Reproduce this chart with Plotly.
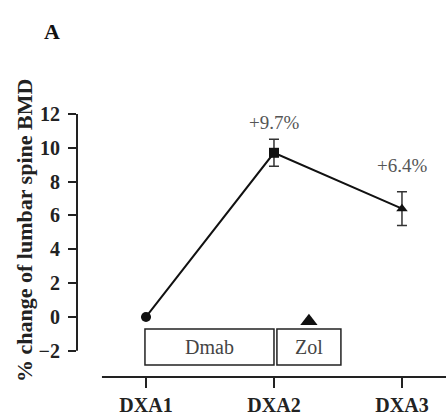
import plotly.graph_objects as go

# ---- data ----
visits = ["DXA1", "DXA2", "DXA3"]
bmd_change = [0.0, 9.7, 6.4]
bmd_err = [0.0, 0.8, 1.0]
change_labels = ["", "+9.7%", "+6.4%"]
marker_symbols = ["circle", "square", "triangle-up"]
y_ticks = [-2, 0, 2, 4, 6, 8, 10, 12]
treatments = ["Dmab", "Zol"]

xpos = list(range(len(visits)))
SERIF = "Liberation Serif"

fig = go.Figure()

fig.add_trace(go.Scatter(
    x=xpos, y=bmd_change,
    mode="lines+markers",
    line=dict(color="#111111", width=2),
    marker=dict(symbol=marker_symbols, size=10, color="#111111"),
    error_y=dict(type="data", array=bmd_err, visible=True,
                 color="#333333", thickness=1.5, width=5),
    showlegend=False, hoverinfo="skip",
))

# Zol infusion marker
fig.add_trace(go.Scatter(
    x=[1.273], y=[-0.25], mode="markers",
    marker=dict(symbol="triangle-up", size=15, color="#111111"),
    showlegend=False, hoverinfo="skip",
))

# treatment boxes
box_spans = [(-0.008, 1.0), (1.023, 1.523)]
for name, (x0, x1) in zip(treatments, box_spans):
    fig.add_shape(type="rect", x0=x0, x1=x1, y0=-2.84, y1=-0.71,
                  xref="x", yref="y", line=dict(color="#222222", width=1.5),
                  fillcolor="white")
    fig.add_annotation(x=(x0 + x1) / 2, y=-1.775, text=name, showarrow=False,
                       xanchor="center", yanchor="middle",
                       font=dict(family=SERIF, size=20, color="#444444", weight="normal"))

# axis lines
fig.add_shape(type="line", xref="paper", yref="y", x0=0, x1=0, y0=-2, y1=12,
              line=dict(color="#222222", width=2))
fig.add_shape(type="line", xref="x", yref="paper", x0=-0.344, x1=2.344, y0=0, y1=0,
              line=dict(color="#222222", width=2))

# percent labels
label_y = [None, 11.5, 8.92]
for i, txt in enumerate(change_labels):
    if txt:
        fig.add_annotation(x=xpos[i], y=label_y[i], text=txt, showarrow=False,
                           xanchor="center", yanchor="middle",
                           font=dict(family=SERIF, size=19, color="#555555", weight="normal"))

# panel letter
fig.add_annotation(xref="paper", yref="paper", x=(52 - 77) / 369, y=(377 - 31) / 277,
                   text="A", showarrow=False, xanchor="center", yanchor="middle",
                   font=dict(family=SERIF, size=22, color="#111111", weight="bold"))

# y-axis title
fig.add_annotation(xref="paper", yref="paper", x=(25 - 77) / 369, y=(377 - 231) / 277,
                   text="% change of lumbar spine BMD", textangle=-90, showarrow=False,
                   xanchor="center", yanchor="middle",
                   font=dict(family=SERIF, size=22, color="#222222", weight="bold"))

fig.update_layout(
    width=447, height=416,
    margin=dict(l=77, r=1, t=100, b=39),
    paper_bgcolor="white", plot_bgcolor="white",
    font=dict(family=SERIF),
    xaxis=dict(range=[-0.539, 2.344], tickvals=xpos, ticktext=visits,
               showline=False, showgrid=False, zeroline=False,
               ticks="outside", ticklen=10, tickwidth=2, tickcolor="#222222",
               tickfont=dict(family=SERIF, size=20, color="#222222", weight="bold")),
    yaxis=dict(range=[-3.55, 12.82], tickvals=y_ticks,
               showline=False, showgrid=False, zeroline=False,
               ticks="outside", ticklen=8, tickwidth=2, tickcolor="#222222",
               ticklabelstandoff=4,
               tickfont=dict(family=SERIF, size=20, color="#222222", weight="bold")),
)

fig.write_html("out.html",
               config={"displayModeBar": False},
               post_script="document.body.style.margin='0';document.body.style.overflow='hidden';")
